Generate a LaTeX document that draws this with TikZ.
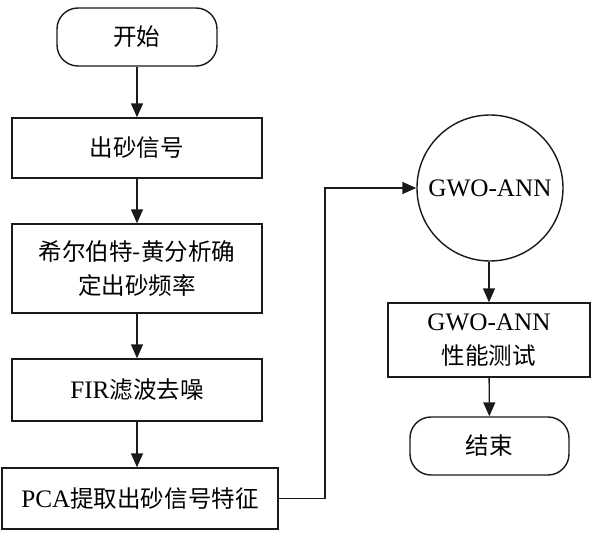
\documentclass[tikz,border=0pt]{standalone}
\usepackage{fontspec}
\setmainfont{Liberation Serif}[Scale=1.07]
\newfontfamily\cjk{Noto Sans CJK SC}
\usepackage{tikz}
\usetikzlibrary{arrows.meta,positioning,shapes,calc}
\definecolor{ink}{HTML}{1A1A1A}
\tikzset{
  stepbox/.style={draw=ink,fill=white,line width=0.8pt,align=center,
                  inner sep=3pt,font=\fontsize{13.4}{19}\selectfont,
                  minimum width=5.0cm},
  termbox/.style={stepbox,rounded corners=0.42cm,minimum width=3.2cm,
                  minimum height=1.16cm},
  netcircle/.style={draw=ink,fill=white,line width=0.8pt,circle,
                    minimum size=2.92cm,inner sep=0pt,
                    font=\fontsize{13.4}{19}\selectfont},
  flowarr/.style={-{Triangle[length=2.8mm,width=2.4mm]},line width=0.8pt,
                  draw=ink}
}
\begin{document}
\begin{tikzpicture}[x=1cm,y=1cm]
    \path[use as bounding box] (0,0) rectangle (11.88,-10.68);
    \node[termbox] (start) at (2.74,-0.74) {\cjk 开始};
    \node[stepbox,minimum height=1.2cm] (signal) at (2.74,-2.96)
      {\cjk 出砂信号};
    \node[stepbox,minimum height=1.78cm] (hht) at (2.74,-5.37)
      {\cjk 希尔伯特-黄分析确\\\cjk 定出砂频率};
    \node[stepbox,minimum height=1.24cm] (fir) at (2.74,-7.80)
      {FIR{\cjk 滤波去噪}};
    \node[stepbox,minimum width=5.52cm,minimum height=1.22cm] (pca)
      at (2.80,-9.97) {PCA{\cjk 提取出砂信号特征}};
    \node[netcircle] (gwo) at (9.80,-3.76) {GWO-ANN};
    \node[stepbox,minimum width=4.04cm,minimum height=1.48cm] (test)
      at (9.78,-6.80) {GWO-ANN\\\cjk 性能测试};
    \node[termbox,minimum width=3.18cm] (stop) at (9.79,-8.92) {\cjk 结束};
    \coordinate (bend) at (6.50,-9.97);
    \draw[flowarr] (start) -- (signal);
    \draw[flowarr] (signal) -- (hht);
    \draw[flowarr] (hht) -- (fir);
    \draw[flowarr] (fir) -- (pca.north -| fir);
    \draw[flowarr] (pca.east) -- (bend) |- (gwo.west);
    \draw[flowarr] (gwo.south -| test) -- (test);
    \draw[flowarr] (test) -- (stop);
  \end{tikzpicture}
\end{document}
